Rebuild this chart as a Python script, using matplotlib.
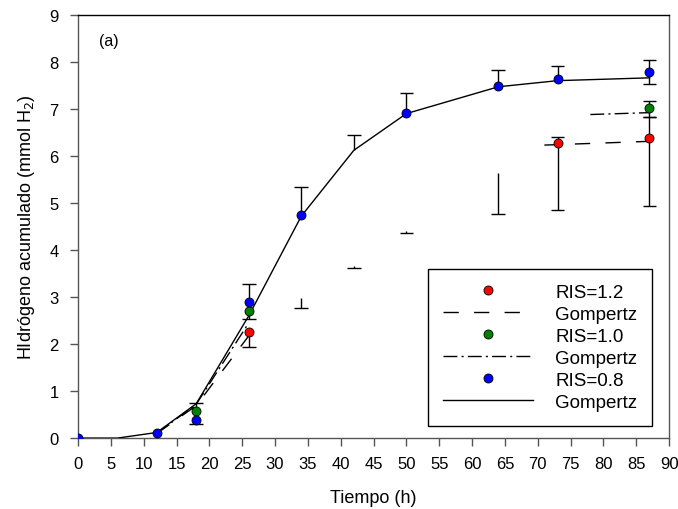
import matplotlib
matplotlib.use("Agg")
import matplotlib.pyplot as plt
from matplotlib.lines import Line2D

plt.rcParams['font.family'] = ['Liberation Sans', 'DejaVu Sans']
plt.rcParams['font.size'] = 12

# RIS=0.8 (blue) - measured points
t_08 = [0, 12, 18, 26, 34, 50, 64, 73, 87]
y_08 = [0.0, 0.11, 0.38, 2.89, 4.75, 6.92, 7.49, 7.64, 7.78]
lo_08 = [0.0, 0.0, 0.08, 0.0, 0.0, 0.0, 0.0, 0.0, 0.26]
hi_08 = [0.0, 0.0, 0.0, 0.38, 0.59, 0.41, 0.34, 0.28, 0.25]

# RIS=1.0 (green)
t_10 = [18, 26, 87]
y_10 = [0.58, 2.70, 7.01]
lo_10 = [0.0, 0.16, 0.18]
hi_10 = [0.17, 0.0, 0.15]

# RIS=1.2 (red)
t_12 = [26, 73, 87]
y_12 = [2.26, 6.28, 6.38]
lo_12 = [0.32, 1.42, 1.44]
hi_12 = [0.0, 0.12, 0.45]

# error bars whose points are not drawn: time, low end, high end
bar_t = [34, 42, 50, 64]
bar_lo = [2.77, 3.62, 4.37, 4.77]
bar_hi = [2.98, 3.66, 4.40, 5.64]
bar42_t = [42]
bar42_lo = [6.12]
bar42_hi = [6.44]

# Gompertz fits
fit_t_08 = [0, 6, 12, 18, 26, 34, 42, 50, 64, 73, 87]
fit_y_08 = [0.0, 0.0, 0.12, 0.73, 2.60, 4.72, 6.12, 6.90, 7.47, 7.60, 7.66]
fit_t_10a = [12, 18, 26]
fit_y_10a = [0.10, 0.72, 2.45]
fit_t_10b = [78, 87]
fit_y_10b = [6.88, 6.92]
fit_t_12a = [12, 18, 27]
fit_y_12a = [0.10, 0.69, 2.36]
fit_t_12b = [71, 87]
fit_y_12b = [6.23, 6.31]

dash_12 = (11, 11)
dash_10 = (10, 3, 1.5, 3)
cap = 1.05

fig = plt.figure(figsize=(6.78, 5.10), dpi=100)
ax = fig.add_axes([0.115, 0.139, 0.872, 0.830])


def bars(t, lo, hi, cap_lo=True, cap_hi=True):
    ax.vlines(t, lo, hi, color='black', lw=1.0, zorder=2)
    if cap_lo:
        ax.hlines(lo, [x - cap for x in t], [x + cap for x in t], color='black', lw=1.0, zorder=2)
    if cap_hi:
        ax.hlines(hi, [x - cap for x in t], [x + cap for x in t], color='black', lw=1.0, zorder=2)


bars(bar_t, bar_lo, bar_hi, cap_hi=False)
bars(bar42_t, bar42_lo, bar42_hi, cap_lo=False)
for t, y, lo, hi in [(t_08, y_08, lo_08, hi_08), (t_10, y_10, lo_10, hi_10), (t_12, y_12, lo_12, hi_12)]:
    for i in range(len(t)):
        if lo[i] > 0:
            bars([t[i]], [y[i] - lo[i]], [y[i]], cap_hi=False)
        if hi[i] > 0:
            bars([t[i]], [y[i]], [y[i] + hi[i]], cap_lo=False)

ax.plot(fit_t_12a, fit_y_12a, color='black', lw=1.0, dashes=dash_12, zorder=3)
ax.plot(fit_t_12b, fit_y_12b, color='black', lw=1.0, dashes=dash_12, zorder=3)
ax.plot(fit_t_10a, fit_y_10a, color='black', lw=1.0, dashes=dash_10, zorder=3)
ax.plot(fit_t_10b, fit_y_10b, color='black', lw=1.0, dashes=dash_10, zorder=3)
ax.plot(fit_t_08, fit_y_08, color='black', lw=1.0, zorder=3)

mk = dict(linestyle='none', marker='o', markersize=6.5, markeredgecolor='black',
          markeredgewidth=0.6, zorder=4)
ax.plot(t_12, y_12, markerfacecolor='red', **mk)
ax.plot(t_10, y_10, markerfacecolor='green', **mk)
ax.plot(t_08, y_08, markerfacecolor='blue', **mk)

ax.set_xlim(0, 90)
ax.set_ylim(0, 9)
ax.set_xticks(range(0, 91, 5))
ax.set_yticks(range(0, 10))
ax.tick_params(direction='out', length=6, width=1, color='#555555', labelsize=12)
ax.tick_params(axis='x', pad=7)
ax.tick_params(axis='y', pad=8)
ax.tick_params(top=False, right=False)
for s in ax.spines.values():
    s.set_color('#555555')
    s.set_linewidth(1.0)
ax.spines['top'].set_color('black')

ax.set_xlabel('Tiempo (h)', fontsize=13, labelpad=13)
ax.set_ylabel('HIdrógeno acumulado (mmol H$_2$)', fontsize=13, labelpad=9)
ax.text(0.036, 0.94, '(a)', transform=ax.transAxes, fontsize=11.5, va='center')

handles = [
    Line2D([], [], linestyle='none', marker='o', markersize=6.5, markerfacecolor='red', markeredgecolor='black', markeredgewidth=0.6),
    Line2D([], [], color='black', lw=1.0, dashes=dash_12),
    Line2D([], [], linestyle='none', marker='o', markersize=6.5, markerfacecolor='green', markeredgecolor='black', markeredgewidth=0.6),
    Line2D([], [], color='black', lw=1.0, dashes=dash_10),
    Line2D([], [], linestyle='none', marker='o', markersize=6.5, markerfacecolor='blue', markeredgecolor='black', markeredgewidth=0.6),
    Line2D([], [], color='black', lw=1.0),
]
labels = ['RIS=1.2', 'Gompertz', 'RIS=1.0', 'Gompertz', 'RIS=0.8', 'Gompertz']
leg = ax.legend(handles, labels, loc='lower right', bbox_to_anchor=(0.971, 0.029),
                borderaxespad=0, fontsize=13.5, handlelength=4.8, handletextpad=1.2,
                labelspacing=0.26, borderpad=0.8, fancybox=False, framealpha=1,
                edgecolor='black', numpoints=1)
leg.get_frame().set_linewidth(1.0)

fig.savefig('out.png', dpi=100)
